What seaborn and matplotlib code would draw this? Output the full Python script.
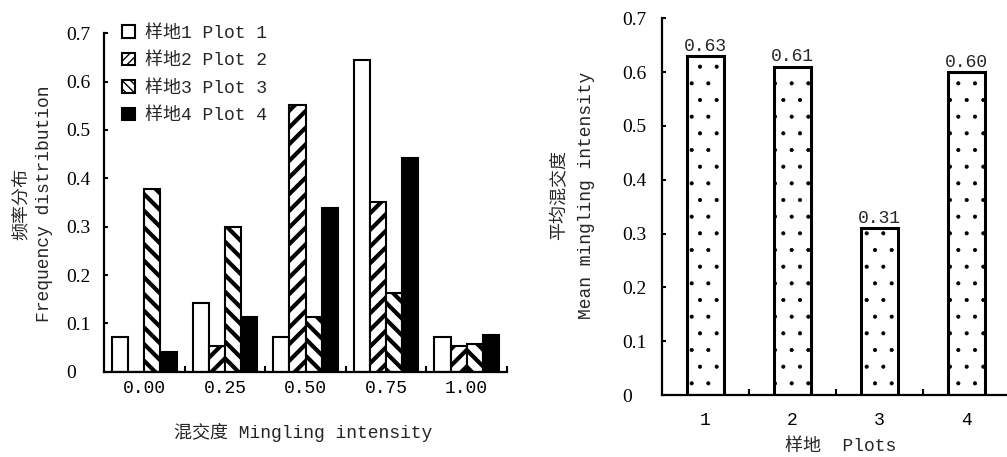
import numpy as np
import pandas as pd
import seaborn as sns
import matplotlib as mpl
import matplotlib.pyplot as plt
from matplotlib.patches import Patch

# left panel: frequency distribution of mingling intensity
intensity = ['0.00', '0.25', '0.50', '0.75', '1.00']
plot_names = ['样地1 Plot 1', '样地2 Plot 2', '样地3 Plot 3', '样地4 Plot 4']
plot1 = [0.071, 0.143, 0.071, 0.645, 0.071]
plot2 = [0.0, 0.054, 0.551, 0.352, 0.054]
plot3 = [0.377, 0.300, 0.113, 0.162, 0.058]
plot4 = [0.041, 0.114, 0.338, 0.443, 0.076]

# right panel: mean mingling intensity per plot
plots = ['1', '2', '3', '4']
mean_mingling = [0.63, 0.61, 0.31, 0.60]

sns.set_theme(style='white')
plt.rcParams['font.family'] = ['Liberation Mono', 'Noto Sans CJK SC']
plt.rcParams['hatch.color'] = 'black'

rows = []
for name, vals in zip(plot_names, [plot1, plot2, plot3, plot4]):
    for x, v in zip(intensity, vals):
        rows.append({'intensity': x, 'plot': name, 'freq': v})
df = pd.DataFrame(rows)

fig = plt.figure(figsize=(10.07, 4.57), dpi=100)
ax1 = fig.add_axes([104 / 1007, 85.3 / 457, 403 / 1007, 338.4 / 457])
ax2 = fig.add_axes([662 / 1007, 62 / 457, 345 / 1007, 376.7 / 457])

fams = ['Liberation Mono', 'Noto Sans CJK SC']


def hatch_lw(patch, lw):
    if hasattr(patch, 'set_hatch_linewidth'):
        patch.set_hatch_linewidth(lw)


# ---- left
hatches = ['', '//', '\\\\', '']
with mpl.rc_context({'hatch.linewidth': 3.0}):
    sns.barplot(data=df, x='intensity', y='freq', hue='plot', order=intensity,
                hue_order=plot_names, palette=['white', 'white', 'white', 'black'],
                saturation=1, edgecolor='black', linewidth=1.5, width=0.8,
                legend=False, ax=ax1)
    for cont, h in zip(ax1.containers, hatches):
        for bar in cont:
            bar.set_hatch(h)
            hatch_lw(bar, 3.0)

    handles = [Patch(facecolor=c, edgecolor='black', hatch=h, linewidth=1.5)
               for c, h in zip(['white', 'white', 'white', 'black'],
                               ['', '////', '\\\\\\\\', ''])]
    for p in handles:
        hatch_lw(p, 2.0)

ax1.set_xlim(-0.5, 4.5)
ax1.set_ylim(0, 0.7)
ax1.set_yticks(np.arange(0, 0.71, 0.1))
ax1.set_yticklabels(['0'] + [f'{v:.1f}' for v in np.arange(0.1, 0.71, 0.1)])
ax1.set_xticks(np.arange(0.5, 5, 1), minor=True)

fig.legend(handles, plot_names, loc='upper left',
           bbox_to_anchor=(122 / 1007, 1 - 25 / 457), frameon=False,
           prop={'family': fams, 'size': 13}, handlelength=0.7,
           handleheight=0.7, handletextpad=0.6, labelspacing=0.58,
           borderpad=0, borderaxespad=0)

ax1.set_xlabel('混交度 Mingling intensity', family=fams, fontsize=13,
               va='center')
ax1.xaxis.set_label_coords(303.5 / 1007, 1 - 432 / 457, transform=fig.transFigure)
ax1.set_ylabel('频率分布\nFrequency distribution', family=fams, fontsize=13,
               va='center', ha='center', linespacing=1.45)
ax1.yaxis.set_label_coords(33.5 / 1007, 1 - 204 / 457, transform=fig.transFigure)

# ---- right
with mpl.rc_context({'hatch.linewidth': 0.5}):
    sns.barplot(x=plots, y=mean_mingling, color='white', saturation=1,
                edgecolor='black', linewidth=2.2, width=0.42, hatch='.', ax=ax2)
    for bar in ax2.containers[0]:
        hatch_lw(bar, 0.5)
ax2.bar_label(ax2.containers[0], fmt='%.2f', padding=1,
              family='Liberation Mono', fontsize=13)
ax2.set_xlim(-0.5, 3.465)
ax2.set_ylim(0, 0.7)
ax2.set_yticks(np.arange(0, 0.71, 0.1))
ax2.set_yticklabels(['0'] + [f'{v:.1f}' for v in np.arange(0.1, 0.71, 0.1)])
ax2.set_xticks(np.arange(0.5, 3, 1), minor=True)

ax2.set_xlabel('样地  Plots', family=fams, fontsize=13, va='center')
ax2.xaxis.set_label_coords(841 / 1007, 1 - 447 / 457, transform=fig.transFigure)
ax2.set_ylabel('平均混交度\nMean mingling intensity', family=fams, fontsize=13,
               va='center', ha='center', linespacing=1.7)
ax2.yaxis.set_label_coords(573 / 1007, 1 - 195 / 457, transform=fig.transFigure)

for ax, ypad, xpad in [(ax1, 27.4, 6.0), (ax2, 28.8, 12.0)]:
    sns.despine(ax=ax)
    for s in ['left', 'bottom']:
        ax.spines[s].set_linewidth(1.6)
        ax.spines[s].set_color('black')
    ax.tick_params(axis='y', direction='in', length=3, width=1.5,
                   pad=ypad, left=True, labelsize=14, colors='black')
    ax.tick_params(axis='x', which='major', length=0, pad=xpad,
                   labelsize=13, colors='black')
    ax.tick_params(axis='x', which='minor', direction='in', length=4,
                   width=1.5, bottom=True, colors='black')
    for lab in ax.get_yticklabels():
        lab.set_horizontalalignment('left')
        lab.set_family('Liberation Serif')
    for lab in ax.get_xticklabels():
        lab.set_family('Liberation Mono')

fig.savefig('out.png', dpi=100)
